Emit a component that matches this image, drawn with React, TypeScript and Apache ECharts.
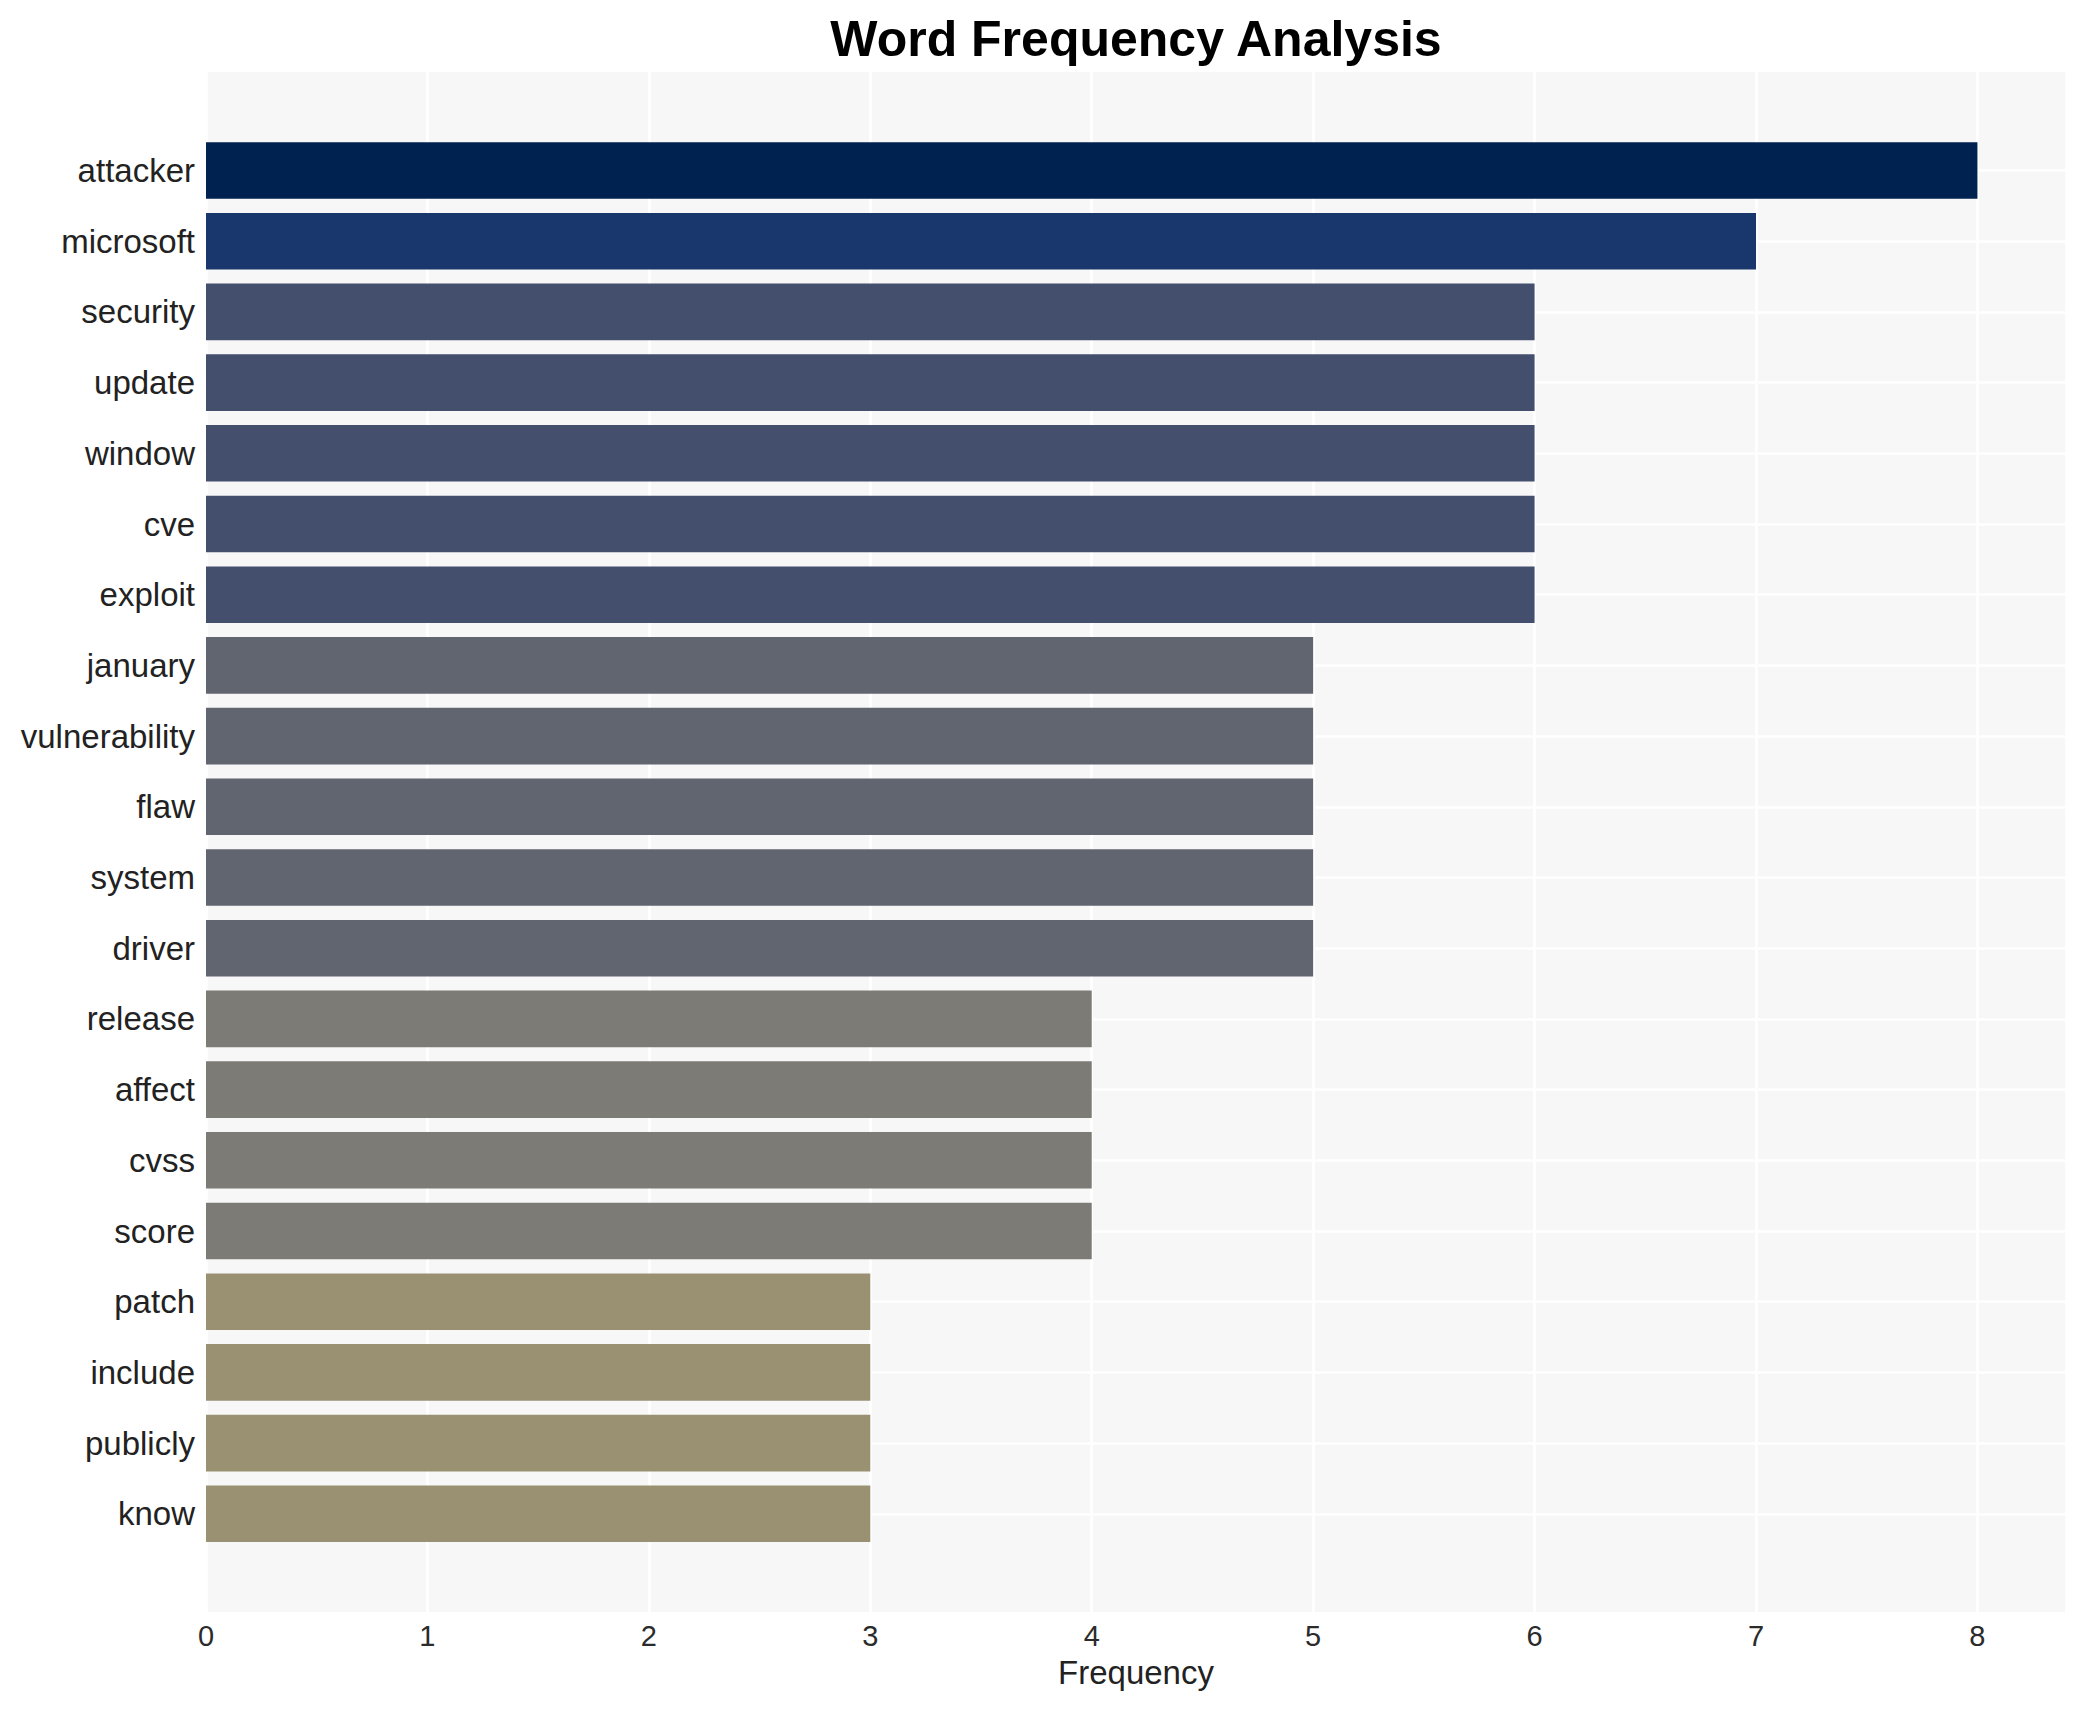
import React, { useEffect, useRef } from "react";
import * as echarts from "echarts";

const words = [
  "attacker", "microsoft", "security", "update", "window", "cve", "exploit",
  "january", "vulnerability", "flaw", "system", "driver", "release", "affect",
  "cvss", "score", "patch", "include", "publicly", "know",
];
const counts = [8, 7, 6, 6, 6, 6, 6, 5, 5, 5, 5, 5, 4, 4, 4, 4, 3, 3, 3, 3];
const xMax = 8.4;

const colorByCount: Record<number, string> = {
  8: "#002251",
  7: "#1A376D",
  6: "#434F6D",
  5: "#61656F",
  4: "#7D7B76",
  3: "#9A9173",
};

const FONT = "'Liberation Sans', Arial, Helvetica, sans-serif";
const PANEL_L = 206;
const PANEL_T = 72;
const PANEL_R = 2066;
const PANEL_B = 1612;
const FIRST_CENTER = 170.5;
const ROW = 70.7;

export default function App() {
  const ref = useRef<HTMLDivElement>(null);
  useEffect(() => {
    const chart = echarts.init(ref.current!, null, { renderer: "svg" });
    const width = PANEL_R - PANEL_L;
    const n = words.length;
    chart.setOption({
      animation: false,
      backgroundColor: "#FFFFFF",
      graphic: [
        {
          type: "text",
          x: (PANEL_L + PANEL_R) / 2,
          y: 39,
          style: {
            text: "Word Frequency Analysis",
            fontFamily: FONT,
            fontSize: 50,
            fontWeight: "bold",
            fill: "#000000",
            textAlign: "center",
            textVerticalAlign: "middle",
          },
        },
      ],
      grid: [
        {
          left: PANEL_L,
          top: PANEL_T,
          width,
          height: PANEL_B - PANEL_T,
          show: true,
          backgroundColor: "#F7F7F7",
          borderWidth: 0,
        },
        {
          left: PANEL_L,
          top: FIRST_CENTER - ROW / 2,
          width,
          height: ROW * n,
        },
        {
          left: PANEL_L,
          top: FIRST_CENTER,
          width,
          height: ROW * (n - 1),
        },
      ],
      xAxis: [
        {
          gridIndex: 0,
          type: "value",
          min: 0,
          max: xMax,
          interval: 1,
          axisLine: { show: false },
          axisTick: { show: false },
          splitLine: { show: true, lineStyle: { color: "#FFFFFF", width: 2.6 } },
          axisLabel: {
            fontSize: 29,
            color: "#2B2B2B",
            fontFamily: FONT,
            margin: 9,
            formatter: (v: number) => (Number.isInteger(v) ? String(v) : ""),
          },
          name: "Frequency",
          nameLocation: "middle",
          nameGap: 44,
          nameTextStyle: { fontSize: 33, color: "#222222", fontFamily: FONT },
        },
        { gridIndex: 1, type: "value", min: 0, max: xMax, show: false },
        {
          gridIndex: 2,
          type: "value",
          min: 0,
          max: xMax,
          axisLine: { show: false },
          axisTick: { show: false },
          axisLabel: { show: false },
          splitLine: { show: false },
        },
      ],
      yAxis: [
        { gridIndex: 0, type: "value", min: 0, max: 1, show: false },
        {
          gridIndex: 1,
          type: "category",
          data: words,
          inverse: true,
          axisLine: { show: false },
          axisTick: { show: false },
          splitLine: { show: false },
          axisLabel: {
            fontSize: 33,
            color: "#222222",
            fontFamily: FONT,
            margin: 11,
          },
        },
        {
          gridIndex: 2,
          type: "category",
          data: words,
          inverse: true,
          boundaryGap: false,
          axisLine: { show: false },
          axisTick: { show: false },
          axisLabel: { show: false },
          splitLine: { show: true, lineStyle: { color: "#FFFFFF", width: 2.6 } },
        },
      ],
      series: [
        {
          type: "bar",
          xAxisIndex: 1,
          yAxisIndex: 1,
          barCategoryGap: "20%",
          data: counts.map((v) => ({
            value: v,
            itemStyle: { color: colorByCount[v] },
          })),
        },
      ],
    });
    return () => chart.dispose();
  }, []);
  return (
    <div
      ref={ref}
      style={{
        position: "fixed",
        left: 0,
        top: 0,
        width: 2085,
        height: 1710,
        background: "#FFFFFF",
      }}
    />
  );
}
